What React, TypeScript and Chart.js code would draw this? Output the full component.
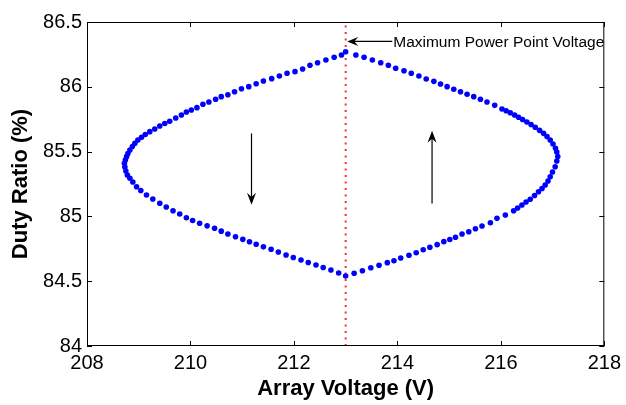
import React, { useEffect, useRef } from "react";
import { Chart, registerables } from "chart.js";

Chart.register(...registerables);

// Axis ticks
const xTicks = [208, 210, 212, 214, 216, 218];
const yTicks = [84, 84.5, 85, 85.5, 86, 86.5];

// Operating-point trajectory of the perturb & observe tracker (array voltage, duty ratio)
const voltage = [
  // upper-left branch: peak towards the left tip
  213.0, 212.919, 212.778, 212.618, 212.457, 212.31, 212.168, 212.021, 211.867, 211.719,
  211.57, 211.41, 211.27, 211.127, 210.986, 210.852, 210.723, 210.595, 210.486, 210.356,
  210.241, 210.125, 210.017, 209.921, 209.825, 209.715, 209.599, 209.503, 209.407, 209.31,
  209.214, 209.127, 209.054, 208.983, 208.925, 208.877, 208.829, 208.79, 208.765, 208.742,
  208.723,
  // lower-left branch: left tip towards the bottom
  208.732, 208.751, 208.78, 208.829, 208.886, 208.958, 209.04, 209.15, 209.272, 209.407,
  209.532, 209.663, 209.792, 209.921, 210.042, 210.177, 210.322, 210.466, 210.595, 210.723,
  210.871, 211.012, 211.141, 211.27, 211.41, 211.559, 211.699, 211.848, 211.988, 212.137,
  212.277, 212.426, 212.566, 212.715, 212.865, 213.0,
  // lower-right branch: bottom towards the right tip
  213.164, 213.324, 213.486, 213.645, 213.805, 213.934, 214.064, 214.224, 214.364, 214.499,
  214.628, 214.769, 214.898, 215.013, 215.123, 215.25, 215.38, 215.509, 215.636, 215.798,
  215.925, 216.087, 216.247, 216.324, 216.407, 216.487, 216.568, 216.651, 216.728, 216.796,
  216.857, 216.911, 216.954, 216.998, 217.05, 217.081, 217.1,
  // upper-right branch: right tip back to the peak
  217.081, 217.056, 217.008, 216.954, 216.892, 216.825, 216.748, 216.665, 216.584, 216.503,
  216.42, 216.343, 216.266, 216.183, 216.102, 216.021, 215.881, 215.732, 215.605, 215.476,
  215.347, 215.22, 215.09, 214.961, 214.834, 214.705, 214.557, 214.416, 214.268, 214.127,
  213.967, 213.825, 213.678, 213.516, 213.356, 213.197,
];

const dutyRatio = [
  86.27, 86.245, 86.228, 86.207, 86.186, 86.166, 86.137, 86.117, 86.104, 86.083,
  86.063, 86.045, 86.024, 86.001, 85.985, 85.962, 85.939, 85.924, 85.904, 85.883,
  85.865, 85.839, 85.821, 85.806, 85.782, 85.759, 85.734, 85.717, 85.698, 85.674,
  85.654, 85.632, 85.61, 85.59, 85.564, 85.539, 85.512, 85.485, 85.461, 85.435,
  85.41,
  85.381, 85.35, 85.319, 85.294, 85.265, 85.229, 85.2, 85.165, 85.134, 85.101,
  85.073, 85.044, 85.019, 84.99, 84.968, 84.947, 84.927, 84.908, 84.886, 84.864,
  84.843, 84.823, 84.804, 84.785, 84.765, 84.746, 84.725, 84.702, 84.683, 84.664,
  84.644, 84.625, 84.606, 84.586, 84.563, 84.54,
  84.561, 84.581, 84.604, 84.623, 84.643, 84.658, 84.679, 84.7, 84.72, 84.743,
  84.762, 84.782, 84.805, 84.822, 84.839, 84.864, 84.882, 84.905, 84.926, 84.951,
  84.985, 85.011, 85.044, 85.065, 85.088, 85.111, 85.132, 85.161, 85.19, 85.215,
  85.242, 85.273, 85.306, 85.343, 85.383, 85.427, 85.462,
  85.497, 85.525, 85.559, 85.59, 85.617, 85.641, 85.664, 85.688, 85.709, 85.728,
  85.748, 85.765, 85.782, 85.8, 85.815, 85.829, 85.857, 85.883, 85.904, 85.924,
  85.942, 85.962, 85.981, 86.001, 86.022, 86.042, 86.06, 86.083, 86.104, 86.124,
  86.143, 86.166, 86.186, 86.207, 86.228, 86.245,
];

// Maximum power point marker line
const mppVoltage = 213;
const mppLabel = "Maximum Power Point Voltage";
const mppLabelAt = [213.9, 86.35]; // label start (V, %)
const mppArrowTip = [213.03, 86.35];

// Direction-of-travel arrows: [V, from %, to %]
const sweepDown = [211.18, 85.64, 85.09];
const sweepUp = [214.67, 85.1, 85.66];

const FONT = "'Liberation Sans', Arial, Helvetica, sans-serif";

function arrowHead(ctx: CanvasRenderingContext2D, x: number, y: number, ang: number, len: number, half: number) {
  ctx.save();
  ctx.translate(x, y);
  ctx.rotate(ang);
  ctx.beginPath();
  ctx.moveTo(0, 0);
  ctx.lineTo(-len, -half);
  ctx.lineTo(-len * 0.65, 0);
  ctx.lineTo(-len, half);
  ctx.closePath();
  ctx.fill();
  ctx.restore();
}

const axesBoxPlugin = {
  id: "axesBox",
  afterDatasetsDraw(chart: any) {
    const { ctx, chartArea, scales } = chart;
    const { left, right, top, bottom } = chartArea;
    const xs = scales.x;
    const ys = scales.y;
    ctx.save();
    ctx.strokeStyle = "#000";
    ctx.lineWidth = 1;
    ctx.strokeRect(left + 0.5, top + 0.5, right - left - 1, bottom - top - 1);
    const tl = 5;
    ctx.beginPath();
    for (const v of xTicks) {
      const px = Math.round(xs.getPixelForValue(v)) + 0.5;
      ctx.moveTo(px, bottom);
      ctx.lineTo(px, bottom - tl);
      ctx.moveTo(px, top);
      ctx.lineTo(px, top + tl);
    }
    for (const v of yTicks) {
      const py = Math.round(ys.getPixelForValue(v)) + 0.5;
      ctx.moveTo(left, py);
      ctx.lineTo(left + tl, py);
      ctx.moveTo(right, py);
      ctx.lineTo(right - tl, py);
    }
    ctx.stroke();

    // direction arrows
    ctx.fillStyle = "#000";
    ctx.strokeStyle = "#000";
    ctx.lineWidth = 1.2;
    for (const [v, d0, d1] of [sweepDown, sweepUp]) {
      const px = xs.getPixelForValue(v);
      const y0 = ys.getPixelForValue(d0);
      const y1 = ys.getPixelForValue(d1);
      const dir = y1 > y0 ? 1 : -1;
      ctx.beginPath();
      ctx.moveTo(px, y0);
      ctx.lineTo(px, y1 - dir * 6);
      ctx.stroke();
      arrowHead(ctx, px, y1, dir > 0 ? Math.PI / 2 : -Math.PI / 2, 12, 4.5);
    }

    // maximum power point annotation
    const lx = xs.getPixelForValue(mppLabelAt[0]);
    const ly = ys.getPixelForValue(mppLabelAt[1]);
    const tx = xs.getPixelForValue(mppArrowTip[0]);
    const ty = ys.getPixelForValue(mppArrowTip[1]);
    ctx.beginPath();
    ctx.moveTo(lx, ly);
    ctx.lineTo(tx + 6, ty);
    ctx.stroke();
    arrowHead(ctx, tx, ty, Math.PI, 11, 4.5);
    ctx.font = `15.5px ${FONT}`;
    ctx.textAlign = "left";
    ctx.textBaseline = "middle";
    ctx.fillText(mppLabel, lx + 1, ly + 1);
    ctx.restore();
  },
};

export default function App() {
  const ref = useRef<HTMLCanvasElement | null>(null);

  useEffect(() => {
    if (!ref.current) return;
    const points = voltage.map((v, i) => ({ x: v, y: dutyRatio[i] }));
    const chart = new Chart(ref.current, {
      type: "scatter",
      data: {
        datasets: [
          {
            label: "MPP",
            data: [
              { x: mppVoltage, y: yTicks[0] },
              { x: mppVoltage, y: yTicks[yTicks.length - 1] },
            ],
            showLine: true,
            borderColor: "#ff2a2a",
            borderWidth: 2,
            borderDash: [2, 4.5],
            pointRadius: 0,
            order: 2,
          },
          {
            label: "Trajectory",
            data: points,
            showLine: false,
            pointRadius: 2.8,
            pointBorderWidth: 0,
            pointBackgroundColor: "#0000ff",
            pointBorderColor: "#0000ff",
            order: 1,
          },
        ],
      },
      options: {
        animation: false,
        responsive: false,
        events: [],
        layout: { padding: { top: 22, right: 20, left: 0, bottom: 0 } },
        plugins: { legend: { display: false }, tooltip: { enabled: false } },
        scales: {
          x: {
            type: "linear",
            min: xTicks[0],
            max: xTicks[xTicks.length - 1],
            afterBuildTicks: (s: any) => {
              s.ticks = xTicks.map((value) => ({ value }));
            },
            afterFit: (s: any) => {
              s.height = 59;
            },
            grid: { display: false, drawTicks: false },
            border: { display: false },
            ticks: {
              padding: 5,
              color: "#000",
              font: { family: FONT, size: 20 },
              callback: (v: any) => String(v),
            },
            title: {
              display: true,
              text: "Array Voltage (V)",
              color: "#000",
              font: { family: FONT, size: 22, weight: "bold" },
              padding: { top: 0, bottom: 3 },
            },
          },
          y: {
            type: "linear",
            min: yTicks[0],
            max: yTicks[yTicks.length - 1],
            afterBuildTicks: (s: any) => {
              s.ticks = yTicks.map((value) => ({ value }));
            },
            afterFit: (s: any) => {
              s.width = 87;
            },
            grid: { display: false, drawTicks: false },
            border: { display: false },
            ticks: {
              padding: 5,
              color: "#000",
              font: { family: FONT, size: 20 },
              callback: (v: any) => String(v),
            },
            title: {
              display: true,
              text: "Duty Ratio (%)",
              color: "#000",
              font: { family: FONT, size: 22, weight: "bold" },
              padding: { top: 8, bottom: 0 },
            },
          },
        },
      },
      plugins: [axesBoxPlugin],
    });
    return () => chart.destroy();
  }, []);

  return (
    <div style={{ position: "fixed", left: 0, top: 0, width: 626, height: 405, background: "#fff" }}>
      <canvas ref={ref} width={626} height={405} style={{ display: "block" }} />
    </div>
  );
}
